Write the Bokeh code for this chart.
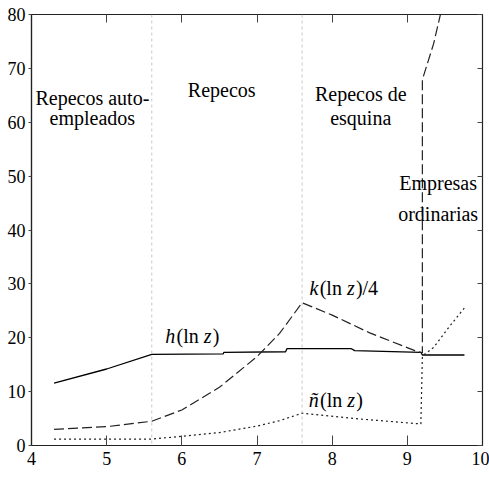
from bokeh.plotting import figure
from bokeh.models import Range1d, LinearAxis, Label, Span, FixedTicker
from bokeh.embed import file_html
from bokeh.resources import INLINE

# ---- data ----
x_h = [4.3, 5.0, 5.6, 6.55, 6.56, 7.38, 7.4, 8.25, 8.3, 9.18, 9.2, 9.76]
h_vals = [11.6, 14.2, 16.9, 17.0, 17.3, 17.4, 18.0, 18.0, 17.6, 17.3, 16.8, 16.8]

x_k = [4.3, 5.0, 5.6, 6.0, 6.5, 7.0, 7.3, 7.6, 8.0, 8.5, 9.1, 9.2, 9.2, 9.35, 9.44]
k_vals = [3.0, 3.5, 4.5, 6.6, 10.8, 16.5, 20.8, 26.5, 24.2, 20.9, 17.6, 17.2, 67.9, 74.6, 80.0]

x_n = [4.3, 5.0, 5.6, 6.0, 6.5, 7.0, 7.3, 7.6, 8.3, 9.18, 9.2, 9.35, 9.55, 9.78]
n_vals = [1.2, 1.2, 1.2, 1.7, 2.4, 3.6, 4.6, 6.0, 5.0, 4.0, 16.6, 18.2, 21.9, 25.9]

boundaries = [5.6, 7.6]
x_ticks = [4, 5, 6, 7, 8, 9, 10]
y_ticks = [0, 10, 20, 30, 40, 50, 60, 70, 80]

FONT = "Liberation Serif"

p = figure(width=489, height=493, output_backend="svg", toolbar_location=None,
           x_range=Range1d(4, 10), y_range=Range1d(0, 80),
           min_border_left=31, min_border_right=7, min_border_top=14, min_border_bottom=48)
p.grid.visible = False
p.outline_line_color = "#222222"
p.outline_line_width = 1.2
p.background_fill_color = "white"
p.border_fill_color = "white"

p.xaxis.ticker = FixedTicker(ticks=x_ticks)
p.yaxis.ticker = FixedTicker(ticks=y_ticks)
for ax in p.xaxis + p.yaxis:
    ax.axis_line_color = "#222222"
    ax.axis_line_width = 1.2
    ax.major_tick_line_color = "#444444"
    ax.minor_tick_line_color = None
    ax.major_label_text_font = FONT
    ax.major_label_text_font_size = "18px"
    ax.major_label_text_color = "black"
p.xaxis.major_tick_in = 10
p.xaxis.major_tick_out = 0
p.xaxis.major_label_standoff = 6
p.yaxis.major_tick_in = 0
p.yaxis.major_tick_out = 3
p.yaxis.major_label_standoff = 3

top = LinearAxis(ticker=FixedTicker(ticks=x_ticks),
                 major_label_overrides={t: "" for t in x_ticks},
                 major_label_standoff=0, major_tick_in=8, major_tick_out=0,
                 minor_tick_line_color=None, axis_line_color="#222222",
                 major_tick_line_color="#444444")
right = LinearAxis(ticker=FixedTicker(ticks=y_ticks),
                   major_label_overrides={t: "" for t in y_ticks},
                   major_label_standoff=0, major_tick_in=5, major_tick_out=0,
                   minor_tick_line_color=None, axis_line_color="#222222",
                   major_tick_line_color="#444444")
p.add_layout(top, "above")
p.add_layout(right, "right")

for b in boundaries:
    p.add_layout(Span(location=b, dimension="height", line_color="#c8c8c8",
                      line_dash="3 3", line_width=1))

p.line(x_h, h_vals, line_color="black", line_width=1.3)
p.line(x_k, k_vals, line_color="#222222", line_width=1.2, line_dash="10 4")
p.line(x_n, n_vals, line_color="#222222", line_width=1.2, line_dash="2 3")

# ---- text ----
def plain(x, y, text, size="20px"):
    p.add_layout(Label(x=x, y=y, text=text, text_font=FONT, text_font_size=size,
                       text_align="center", text_baseline="middle", text_color="black"))

plain(4.81, 64.5, "Repecos auto-")
plain(4.81, 60.7, "empleados")
plain(6.53, 65.9, "Repecos")
plain(8.38, 65.3, "Repecos de")
plain(8.38, 60.7, "esquina")
plain(9.41, 48.8, "Empresas")
plain(9.41, 43.0, "ordinarias")

W = {"(": .333, ")": .333, "l": .278, "n": .5, " ": .25, "/": .278, "4": .5,
     "h": .5, "z": .389, "k": .444, "ñ": .5}

def rich(x, y, parts, size=20, center=False):
    widths = []
    for t, it in parts:
        w = sum(W.get(c, .5) for c in t) * size
        if it:
            w += 0.06 * size
        widths.append(w)
    off = -sum(widths) / 2 if center else 0
    for (t, it), w in zip(parts, widths):
        p.add_layout(Label(x=x, y=y, x_offset=off, text=t, text_font=FONT,
                           text_font_size=f"{size}px",
                           text_font_style="italic" if it else "normal",
                           text_align="left", text_baseline="middle", text_color="black"))
        off += w

rich(5.78, 20.3, [("h", True), ("(ln ", False), ("z", True), (")", False)])
rich(7.70, 29.3, [("k", True), ("(ln ", False), ("z", True), (")/4", False)])
rich(7.69, 8.5, [("ñ", True), ("(ln ", False), ("z", True), (")", False)])
rich(7.03, -6.2, [("ln(", False), ("z", True), (")", False)], center=True)

open("out.html", "w").write(file_html(p, INLINE))
